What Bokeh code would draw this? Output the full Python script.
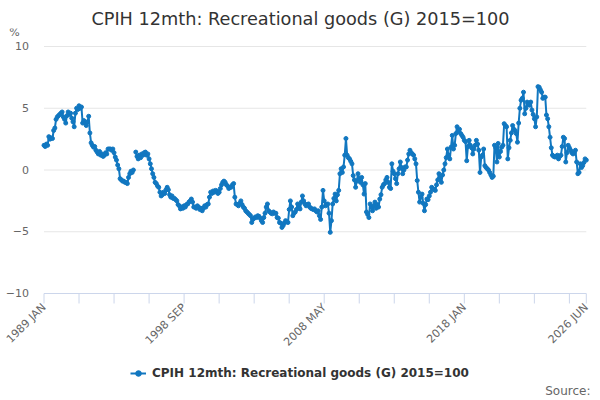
import math
from bokeh.plotting import figure
from bokeh.models import (Range1d, FixedTicker, Legend, LegendItem, Title,
                          Label, ColumnDataSource)
from bokeh.embed import file_html
from bokeh.resources import INLINE

nan = float("nan")

title_text = "CPIH 12mth: Recreational goods (G) 2015=100"
series_name = "CPIH 12mth: Recreational goods (G) 2015=100"
unit_label = "%"
source_text = "Source:"

start_year = 1989
month_names = ["JAN", "FEB", "MAR", "APR", "MAY", "JUN",
               "JUL", "AUG", "SEP", "OCT", "NOV", "DEC"]

# monthly 12-month rate (%), Jan 1989 .. Jun 2026
values = [
    # 1989
    2.0, 1.9, 2.1, 2.0, 2.7, 2.5, 2.6, 2.55, 3.2, 3.4, 4.1, 4.3,
    # 1990
    4.4, 4.5, 4.6, 4.7, 4.3, 4.1, 3.8, 4.4, 4.7, 4.5, 4.6, 4.2,
    # 1991
    3.9, 3.5, 4.6, 5.0, 4.9, 5.2, 5.0, 5.1, 3.8, 4.0, 3.8, 3.6,
    # 1992
    3.9, 4.35, 3.0, 2.2, 2.0, 1.85, 1.9, 1.6, 1.45, 1.3, 1.5, 1.2,
    # 1993
    1.3, 1.1, 1.2, 1.4, 1.3, 1.7, 1.7, 1.7, 1.6, 1.7, 1.4, 1.05,
    # 1994
    0.8, 0.4, 0.1, -0.7, -0.8, -0.9, -0.9, -1.0, -1.0, -1.1, -0.6, -0.3,
    # 1995
    -0.1, -0.2, 0.0, nan, 1.45, 1.1, 0.9, 1.2, 1.0, 1.3, 1.2, 1.4,
    # 1996
    1.45, 1.2, 1.3, 0.9, 0.5, 0.1, -0.3, -0.6, -1.0, -1.1, -1.3, -1.4,
    # 1997
    -1.8, -2.1, -2.0, -1.8, -1.9, -1.6, -1.4, -1.6, -2.0, -2.2, -2.1, -2.3,
    # 1998
    -2.3, -2.4, -2.5, -2.8, -2.9, -3.15, -3.0, -3.1, -2.9, -3.0, -2.8, -2.75,
    # 1999
    -2.6, -2.5, -2.35, -2.6, -3.0, -3.0, -3.1, -2.9, -3.0, -3.2, -3.1, -3.3,
    # 2000
    -3.1, -2.9, -3.0, -2.8, -2.75, -2.2, -1.8, -1.9, -1.7, -1.8, -1.65, -1.7,
    # 2001
    -1.9, -1.8, -1.5, -1.2, -1.0, -0.9, -1.0, -1.2, -1.3, -1.5, -1.4, -1.4,
    # 2002
    -1.2, -1.1, -2.2, -2.75, -2.8, -2.9, -2.7, -2.5, -2.8, -3.0, -3.1, -3.3,
    # 2003
    -3.4, -3.5, -3.6, -3.7, -4.25, -4.0, -3.9, -3.8, -3.85, -3.7, -3.75, -3.9,
    # 2004
    -4.1, -4.25, -3.85, -3.5, -3.0, -2.75, -3.3, -3.4, -3.5, -3.55, -3.4, -3.5,
    # 2005
    -3.5, -3.85, -3.9, -4.25, -4.3, -4.65, -4.5, -4.3, -4.1, -4.2, -4.25, -3.2,
    # 2006
    -2.5, -3.0, -3.7, -3.5, -3.4, -3.2, -2.75, -3.0, -3.15, -2.6, -2.1, -2.5,
    # 2007
    -2.75, -2.9, -2.8, -2.75, -3.0, -3.1, -3.15, -3.2, -3.15, -3.3, -3.4, -3.3,
    # 2008
    -3.7, -4.0, -3.0, -1.65, -2.5, -2.9, -2.8, -2.75, -3.5, -5.05, -4.1, -2.75,
    # 2009
    -2.3, -1.95, -2.5, -2.0, -1.65, -0.3, 0.1, -0.2, 0.25, 1.2, 2.55, 1.2,
    # 2010
    1.0, 0.9, 0.7, 0.5, -0.45, -0.8, -1.4, -0.9, -0.3, -0.7, -1.0, -0.6,
    # 2011
    -1.2, -1.95, -1.1, -3.4, -3.6, -3.85, -2.75, -3.0, -3.3, -2.9, -2.6, -3.1,
    # 2012
    -2.8, -3.0, -2.35, -2.0, -1.4, -1.2, -1.1, -0.8, -0.6, -1.0, -1.4, -1.5,
    # 2013
    0.5, -0.1, -0.3, -0.7, -1.1, -0.3, 0.1, 0.65, 0.2, -0.3, 0.0, 0.25,
    # 2014
    0.25, 0.8, 1.3, 1.6, 1.4, 1.3, 1.2, 0.9, 0.5, -0.85, -1.8, -2.6,
    # 2015
    -2.2, -1.95, -2.7, -3.3, -2.8, -2.35, -2.4, -2.1, -1.8, -1.4, -1.5, -1.6,
    # 2016
    -1.65, -1.2, -0.8, -0.3, -0.6, -1.0, -0.4, 0.0, 0.5, 1.0, 1.7, 1.2,
    # 2017
    0.9, 1.85, 2.8, 1.7, 2.0, 2.95, 3.5, 3.1, 3.3, 2.95, 2.8, 2.65,
    # 2018
    2.4, 2.3, 0.75, 1.9, 2.4, 2.0, 1.8, 1.3, 1.7, 2.0, 2.4, 2.1,
    # 2019
    1.6, -0.2, 1.05, 1.2, 1.7, 0.35, 0.2, 0.1, 0.0, -0.2, -0.4, -0.6,
    # 2020
    -0.5, 2.0, 1.8, 0.65, 2.15, 1.05, 1.5, 1.85, 2.0, 3.75, 3.6, 3.5,
    # 2021
    0.9, 1.8, 2.4, 3.0, 3.6, 3.3, 3.2, 2.95, 2.25, 3.8, 5.0, 5.65,
    # 2022
    5.8, 6.3, 4.55, 5.0, 5.5, 5.3, 5.25, 5.5, 4.85, 4.5, 4.15, 3.5,
    # 2023
    4.3, 6.75, 6.7, 6.5, 6.3, 5.8, 5.9, 5.9, 4.45, 4.15, 3.5, 2.65,
    # 2024
    1.8, 1.2, 1.1, 1.05, 1.1, 1.2, 0.9, 1.1, 1.2, 1.9, 2.65, 2.55,
    # 2025
    0.65, 1.4, 2.0, 1.8, 1.6, 1.4, 1.3, 1.4, 1.6, 0.65, -0.3, -0.2,
    # 2026
    0.5, 0.2, 0.35, 0.6, 0.9, 0.8,
]

months = ["%d %s" % (start_year + i // 12, month_names[i % 12])
          for i in range(len(values))]
labelled_months = ["1989 JAN", "1998 SEP", "2008 MAY", "2018 JAN", "2026 JUN"]
y_ticks = [-10, -5, 0, 5, 10]
tick_step = 29  # months between x-axis tick marks

n = len(values)
x = list(range(n))
source = ColumnDataSource(data=dict(x=x, y=values, month=months))

LINE = "#1177c0"
GRID = "#e6e6e6"
AXIS = "#ccd6eb"
FONT = "DejaVu Sans"

# layout: the plotting frame covers the whole canvas below the title; the
# axes are pinned to month 0 / value -10 so labels outside the grid show.
W, H, TOP = 600, 400, 28
plot_left, plot_right = 43.5, 585.8      # pixel span of months 0..n-1
grid_top, grid_bottom = 46.0, 293.0       # pixel span of values 10..-10
ppx = (plot_right - plot_left) / (n - 1)
ppy = (grid_bottom - grid_top) / (y_ticks[-1] - y_ticks[0])
x_start = -plot_left / ppx
x_end = (n - 1) + (W - plot_right) / ppx
y_top = y_ticks[-1] + (grid_top - TOP) / ppy
y_bottom = y_ticks[0] - (H - grid_bottom) / ppy
unit_pos = y_ticks[-1] + (grid_top - 32) / ppy
tick_len = 10 / ppy

p = figure(width=W, height=H, output_backend="svg", toolbar_location=None,
           x_range=Range1d(x_start, x_end), y_range=Range1d(y_bottom, y_top),
           min_border_left=0, min_border_right=0, min_border_top=TOP,
           min_border_bottom=0)
p.outline_line_color = None
p.background_fill_color = "white"
p.border_fill_color = "white"
p.xgrid.grid_line_color = None
p.ygrid.grid_line_color = None

# horizontal gridlines (the -10 one doubles as the x-axis line)
grid_src = ColumnDataSource(data=dict(
    x0=[0] * len(y_ticks), x1=[n - 1] * len(y_ticks), y=y_ticks,
    c=[AXIS if t == y_ticks[0] else GRID for t in y_ticks]))
p.segment(x0="x0", y0="y", x1="x1", y1="y", source=grid_src,
          line_color="c", line_width=1, level="underlay")

# y axis pinned at month 0 (unit "%" shown as a label at the top)
p.yaxis.fixed_location = 0
p.yaxis.ticker = FixedTicker(ticks=y_ticks + [unit_pos])
p.yaxis.major_label_overrides = {unit_pos: unit_label + "\u00a0\u00a0\u2009"}
p.yaxis.axis_line_color = None
p.yaxis.major_tick_line_color = None
p.yaxis.minor_tick_line_color = None
p.yaxis.major_tick_out = 0
p.yaxis.major_tick_in = 0
p.yaxis.major_label_standoff = 15
p.yaxis.major_label_text_font = FONT
p.yaxis.major_label_text_font_size = "11px"
p.yaxis.major_label_text_color = "#666666"

# x axis pinned at -10
xt = list(range(0, n, tick_step)) + [n - 1]
overrides = {}
for t in xt:
    overrides[t] = months[t] if months[t] in labelled_months else ""
p.xaxis.fixed_location = y_ticks[0]
p.xaxis.ticker = FixedTicker(ticks=xt)
p.xaxis.major_label_overrides = overrides
p.xaxis.axis_line_color = None
p.xaxis.major_tick_line_color = None
p.xaxis.minor_tick_line_color = None
p.xaxis.major_tick_out = 10
p.xaxis.major_tick_in = 0
p.xaxis.major_label_orientation = math.pi / 4
p.xaxis.major_label_standoff = 2
p.xaxis.major_label_text_font = FONT
p.xaxis.major_label_text_font_size = "11px"
p.xaxis.major_label_text_color = "#666666"

# tick marks below the axis line
tick_src = ColumnDataSource(data=dict(
    x=xt, y0=[y_ticks[0]] * len(xt), y1=[y_ticks[0] - tick_len] * len(xt)))
p.segment(x0="x", y0="y0", x1="x", y1="y1", source=tick_src,
          line_color=AXIS, line_width=1)

r_line = p.line("x", "y", source=source, line_color=LINE, line_width=2)
r_pts = p.scatter("x", "y", source=source, size=4, fill_color=LINE,
                  line_color=LINE)

p.add_layout(Title(text=title_text, align="center", offset=0, standoff=0,
                   text_font=FONT, text_font_size="17.7px",
                   text_font_style="normal", text_color="#333333"), "above")

legend = Legend(items=[LegendItem(label=series_name, renderers=[r_line, r_pts])],
                location=(130, 20), orientation="horizontal",
                border_line_color=None, background_fill_alpha=0,
                label_text_font=FONT, label_text_font_size="12px",
                label_text_font_style="bold", label_text_color="#333333",
                glyph_width=16, glyph_height=14, label_height=14,
                label_standoff=6, padding=0, margin=0, spacing=0)
p.add_layout(legend, "center")

p.add_layout(Label(x=590, y=10, x_units="screen", y_units="screen",
                   text=source_text, text_font=FONT, text_font_size="12px",
                   text_color="#666666", text_align="right",
                   text_baseline="middle"))

open("out.html", "w").write(file_html(p, INLINE))
